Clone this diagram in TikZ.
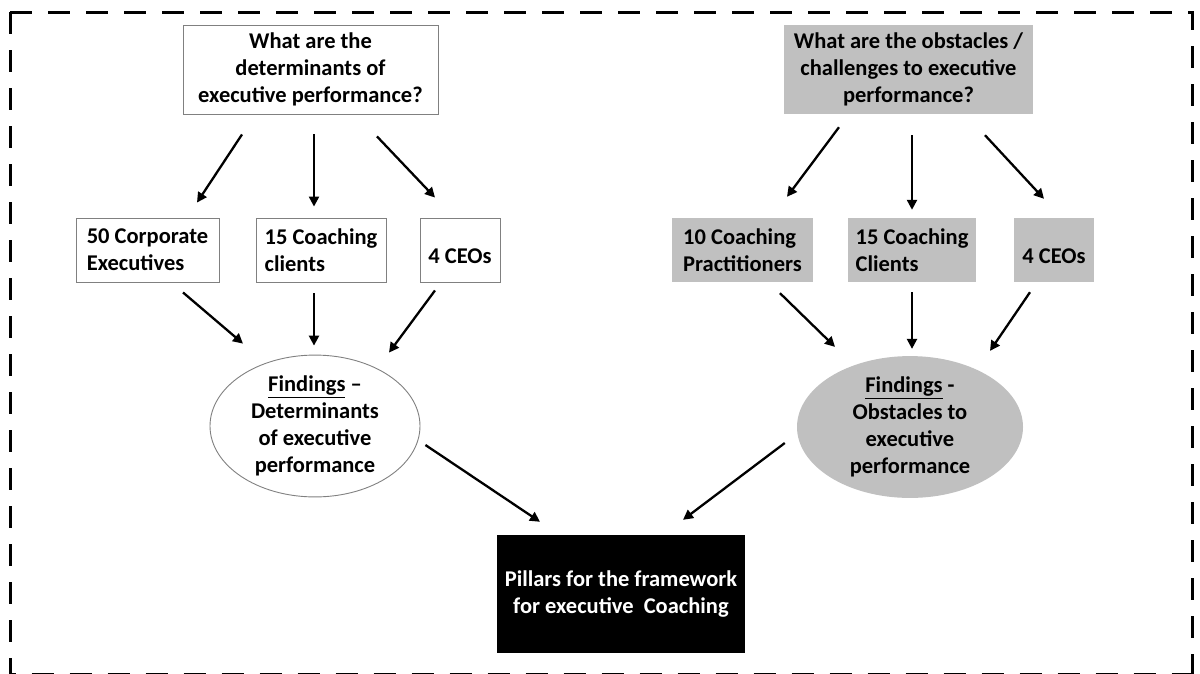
\documentclass[tikz,border=0pt]{standalone}
\usepackage{fontspec}
\setmainfont{Carlito}
\usetikzlibrary{arrows.meta,shapes.geometric}

\definecolor{boxgray}{RGB}{192,192,192}
\definecolor{edgegray}{RGB}{128,128,128}

\begin{document}
\begin{tikzpicture}[x=1pt,y=-1pt,
  every node/.style={font=\bfseries\fontsize{22.5}{27}\selectfont, inner sep=0pt},
  plainbox/.style={rectangle, draw=edgegray, line width=0.9pt, fill=white},
  greybox/.style={rectangle, fill=boxgray},
  question/.style={align=center, minimum height=89},
  source/.style={align=left, minimum height=64},
  arr/.style={line width=2.3pt, -{Triangle[length=10pt,width=10pt]}},
  frame/.style={line width=3pt, dash pattern=on 22pt off 16pt}
]
\clip (0,0) rectangle (1200,673);

% outer dashed frame
\draw[frame] (10,12) -- (1192,12) -- (1192,690);
\draw[frame] (10,12) -- (10,674.5) -- (1200,674.5);

% research questions
\node[plainbox, question, minimum width=255] (q1) at (310.5,69.5)
  {What are the\\determinants of\\executive performance?};
\node[greybox, question, minimum width=249] (q2) at (908.5,69.5)
  {What are the obstacles /\\challenges to executive\\performance?};

% respondent groups, left
\node[plainbox, source, minimum width=143] (a) at (147.5,250) {50 Corporate\\Executives};
\node[plainbox, source, minimum width=130] (b) at (321,250) {15 Coaching\\clients};
\node[plainbox, source, minimum width=80]  (c) at (460,250) {\mbox{}\\4 CEOs};

% respondent groups, right
\node[greybox, source, minimum width=141] (d) at (742.5,250) {10 Coaching\\Practitioners};
\node[greybox, source, minimum width=128] (e) at (912,250) {15 Coaching\\Clients};
\node[greybox, source, minimum width=80]  (f) at (1054,250) {\mbox{}\\4 CEOs};

% findings
\node[ellipse, draw=edgegray, line width=0.9pt, fill=white, align=center,
      minimum width=210, minimum height=122] (fl) at (315,426)
  {\underline{Findings} --\\Determinants\\of executive\\performance};
\node[ellipse, fill=boxgray, align=center,
      minimum width=226, minimum height=130] (fr) at (910,427)
  {\underline{Findings} -\\Obstacles to\\executive\\performance};

% outcome
\node[rectangle, fill=black, text=white, align=center,
      minimum width=248, minimum height=118] (p) at (621,594)
  {Pillars for the framework\\for executive\ \ Coaching};

% question -> groups
\draw[arr] ([shift={(-68.5,20)}]q1.south) -- ([shift={(49.5,-15)}]a.north);
\draw[arr] ([shift={(3.5,20)}]q1.south)   -- ([shift={(-7,-11)}]b.north);
\draw[arr] ([shift={(66.5,22)}]q1.south)  -- ([shift={(-25,-20)}]c.north);

\draw[arr] ([shift={(-69.5,13)}]q2.south) -- ([shift={(44.5,-21)}]d.north);
\draw[arr] ([shift={(3.5,21)}]q2.south)   -- ([shift={(0,-8)}]e.north);
\draw[arr] ([shift={(76.5,21)}]q2.south)  -- ([shift={(-10,-19)}]f.north);

% groups -> findings
\draw[arr] ([shift={(35.5,10)}]a.south) -- ([shift={(-72,-11)}]fl.north);
\draw[arr] ([shift={(-7,11)}]b.south)   -- ([shift={(-1,-9)}]fl.north);
\draw[arr] ([shift={(-25,8)}]c.south)   -- ([shift={(74,-2)}]fl.north);

\draw[arr] ([shift={(37.5,11)}]d.south) -- ([shift={(-75,-9)}]fr.north);
\draw[arr] ([shift={(0,10)}]e.south)    -- ([shift={(2,-7)}]fr.north);
\draw[arr] ([shift={(-24,10)}]f.south)  -- ([shift={(80,-5)}]fr.north);

% findings -> pillars
\draw[arr] ([shift={(5,19)}]fl.east)   -- ([shift={(-81,-13)}]p.north);
\draw[arr] ([shift={(-12,16)}]fr.west) -- ([shift={(62,-15)}]p.north);
\end{tikzpicture}
\end{document}
